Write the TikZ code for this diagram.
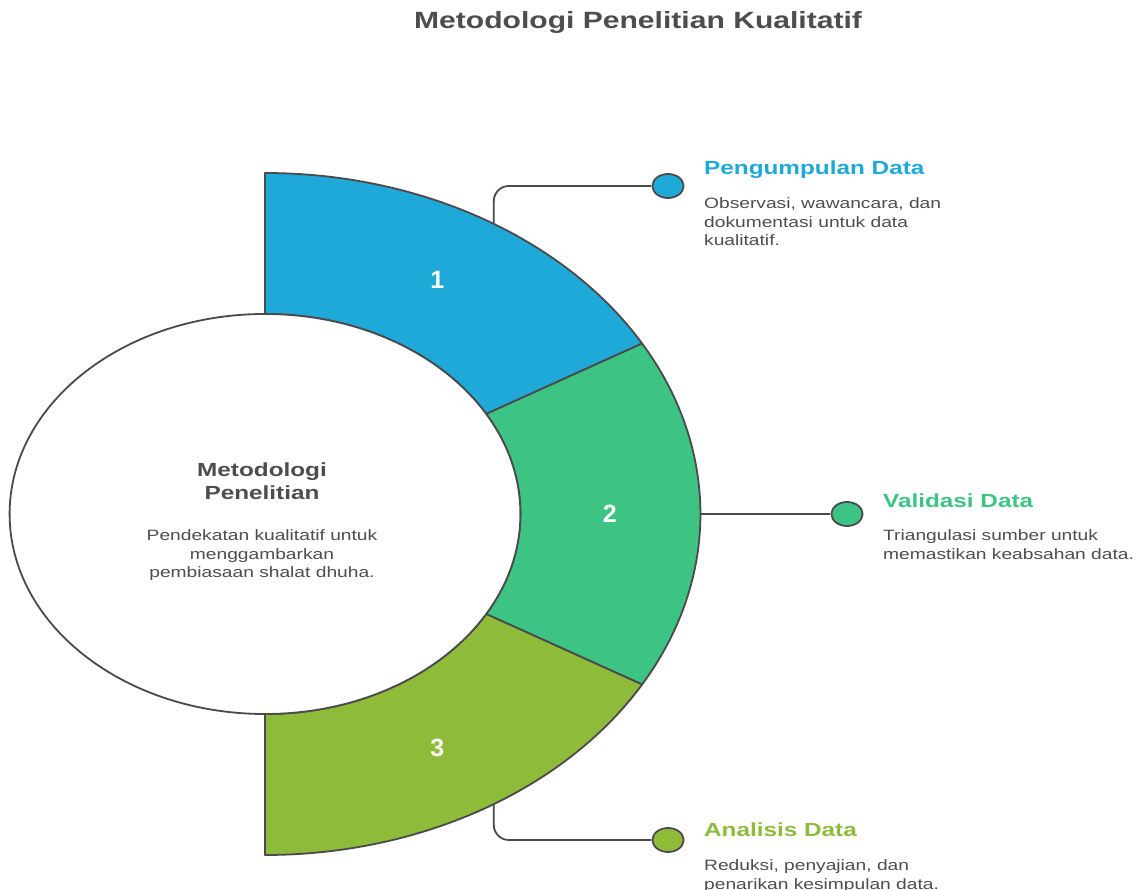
\documentclass[tikz,border=0pt]{standalone}
\usepackage{fontspec}
\setmainfont{Liberation Sans}
\usetikzlibrary{positioning}

\definecolor{segblue}{HTML}{1EA9D9}
\definecolor{seggreen}{HTML}{3DC484}
\definecolor{segolive}{HTML}{8FBB3A}
\definecolor{linegray}{HTML}{4A4A4A}
\definecolor{textgray}{HTML}{4D4D4D}

\begin{document}
\begin{tikzpicture}[x=1pt, y=1pt, line width=1.8pt,
	seg/.style={draw=linegray, line join=round},
	num/.style={text=white, font=\fontsize{25}{25}\selectfont\bfseries},
	head/.style={anchor=base west, inner sep=0pt, xscale=1.28, font=\fontsize{19}{22}\selectfont\bfseries},
	desc/.style={align=left, inner sep=0pt, xscale=1.28, text=textgray, font=\fontsize{15}{18.5}\selectfont},
	dot/.style={circle, draw=linegray, minimum size=24pt, inner sep=0pt, xscale=1.3}
	]
	\useasboundingbox (0,0) rectangle (1139,890);

	% title
	\node[anchor=base, xscale=1.28, text=textgray, font=\fontsize{23.5}{26}\selectfont\bfseries] (title) at (638,861) {Metodologi Penelitian Kualitatif};

	% ring of three steps
	\begin{scope}[shift={(265,376)}, xscale=1.277]
		\path[seg, fill=segblue] (0,341) arc[start angle=90, end angle=30, radius=341]
			-- (30:200) arc[start angle=30, end angle=90, radius=200] -- cycle;
		\path[seg, fill=seggreen] (30:341) arc[start angle=30, end angle=-30, radius=341]
			-- (-30:200) arc[start angle=-30, end angle=30, radius=200] -- cycle;
		\path[seg, fill=segolive] (-30:341) arc[start angle=-30, end angle=-90, radius=341]
			-- (0,-200) arc[start angle=-90, end angle=-30, radius=200] -- cycle;
		\draw[seg, fill=white] (0,0) circle[radius=200];

		\node[num] (n1) at (60:270) {1};
		\node[num] (n2) at (0:270) {2};
		\node[num] (n3) at (-60:270) {3};

		\coordinate (c1) at (58.3:341);
		\coordinate (c2) at (0:341);
		\coordinate (c3) at (-58.3:341);
	\end{scope}

	% centre text
	\node[anchor=north, align=center, inner sep=0pt, xscale=1.28, text=textgray, font=\fontsize{19}{23}\selectfont\bfseries] (ctitle) at (262,428) {Metodologi\\Penelitian};
	\node[desc, align=center, below=28pt of ctitle.south] (cdesc) {Pendekatan kualitatif untuk\\menggambarkan\\pembiasaan shalat dhuha.};

	% markers
	\node[dot, fill=segblue] (dot1) at (668,704) {};
	\node[dot, fill=seggreen] (dot2) at (847,376) {};
	\node[dot, fill=segolive] (dot3) at (668,50) {};

	\draw[linegray, rounded corners=15pt] (c1) |- (dot1.west);
	\draw[linegray] (c2) -- (dot2.west);
	\draw[linegray, rounded corners=15pt] (c3) |- (dot3.west);

	% labels
	\node[head, text=segblue] (h1) at (703,715) {Pengumpulan Data};
	\node[desc, below=22pt of h1.base west, anchor=north west] (d1) {Observasi, wawancara, dan\\dokumentasi untuk data\\kualitatif.};

	\node[head, text=seggreen] (h2) at (882,382) {Validasi Data};
	\node[desc, below=21pt of h2.base west, anchor=north west] (d2) {Triangulasi sumber untuk\\memastikan keabsahan data.};

	\node[head, text=segolive] (h3) at (703,53) {Analisis Data};
	\node[desc, below=22pt of h3.base west, anchor=north west] (d3) {Reduksi, penyajian, dan\\penarikan kesimpulan data.};
\end{tikzpicture}
\end{document}
